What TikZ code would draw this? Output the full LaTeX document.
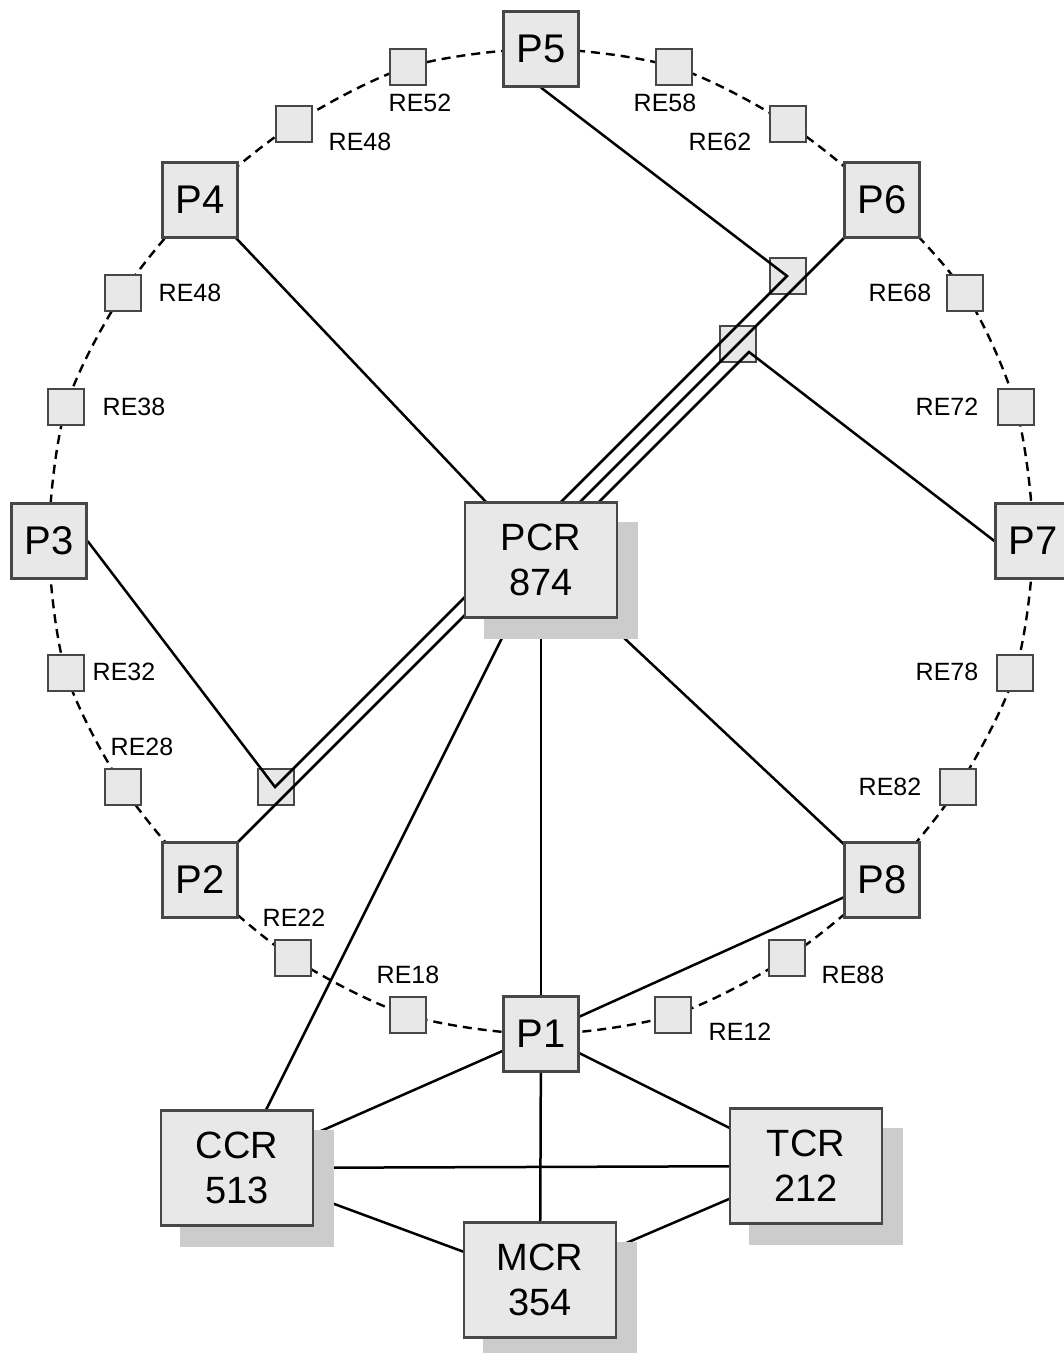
\documentclass[tikz,border=0pt]{standalone}
\usepackage{fontspec}
\setmainfont{Liberation Sans}
\usetikzlibrary{calc}
\definecolor{boxfill}{gray}{0.91}
\definecolor{boxborder}{gray}{0.28}
\definecolor{shadowgray}{gray}{0.8}
\pgfdeclarelayer{ringl}
\pgfdeclarelayer{apexl}
\pgfdeclarelayer{linel}
\pgfdeclarelayer{shadowl}
\pgfsetlayers{ringl,apexl,linel,shadowl,main}
\begin{document}
\begin{tikzpicture}[x=1pt,y=-1pt,
  pbox/.style={draw=boxborder, fill=boxfill, line width=2.2pt, minimum width=75pt, minimum height=75pt, inner sep=0pt, font=\fontsize{40}{44}\selectfont},
  rebox/.style={draw=boxborder, fill=boxfill, line width=1.8pt, minimum size=36pt, inner sep=0pt},
  bigbox/.style={draw=boxborder, fill=boxfill, line width=2.2pt, minimum width=152pt, minimum height=115pt, inner sep=0pt, align=center, font=\fontsize{38}{45}\selectfont},
  shadowbox/.style={fill=shadowgray, minimum width=154pt, minimum height=117pt, inner sep=0pt},
  relabel/.style={font=\fontsize{25}{28}\selectfont, inner sep=0pt},
  conn/.style={line width=2.5pt, black},
  ring/.style={line width=2.4pt, dash pattern=on 9pt off 6pt}
]
\useasboundingbox (0,0) rectangle (1064,1353);
% ring members
\node[pbox] (p1) at (541,1034) {P1};
\node[pbox] (p2) at (200,880) {P2};
\node[pbox] (p3) at (49,541) {P3};
\node[pbox] (p4) at (200,200) {P4};
\node[pbox] (p5) at (541,49) {P5};
\node[pbox] (p6) at (882,200) {P6};
\node[pbox] (p7) at (1033,541) {P7};
\node[pbox] (p8) at (882,880) {P8};
\node[rebox] (re52) at (408,67) {};
\node[rebox] (re48a) at (294,124) {};
\node[rebox] (re58) at (674,67) {};
\node[rebox] (re62) at (788,124) {};
\node[rebox] (re48b) at (123,293) {};
\node[rebox] (re38) at (66,407) {};
\node[rebox] (re32) at (66,673) {};
\node[rebox] (re28) at (123,787) {};
\node[rebox] (re22) at (293,958) {};
\node[rebox] (re18) at (408,1015) {};
\node[rebox] (re12) at (673,1015) {};
\node[rebox] (re88) at (787,958) {};
\node[rebox] (re82) at (958,787) {};
\node[rebox] (re78) at (1015,673) {};
\node[rebox] (re72) at (1016,407) {};
\node[rebox] (re68) at (965,293) {};
% labels
\node[relabel] (l52) at (420,103) {RE52};
\node[relabel] (l48a) at (360,142) {RE48};
\node[relabel] (l58) at (665,103) {RE58};
\node[relabel] (l62) at (720,142) {RE62};
\node[relabel] (l48b) at (190,293) {RE48};
\node[relabel] (l38) at (134,407) {RE38};
\node[relabel] (l32) at (124,672) {RE32};
\node[relabel] (l28) at (142,747) {RE28};
\node[relabel] (l22) at (294,918) {RE22};
\node[relabel] (l18) at (408,975) {RE18};
\node[relabel] (l12) at (740,1032) {RE12};
\node[relabel] (l88) at (853,975) {RE88};
\node[relabel] (l68) at (900,293) {RE68};
\node[relabel] (l72) at (947,407) {RE72};
\node[relabel] (l78) at (947,672) {RE78};
\node[relabel] (l82) at (890,787) {RE82};
% big boxes
\node[bigbox] (pcr) at (541,560) {PCR\\874};
\node[bigbox] (ccr) at (237,1168) {CCR\\513};
\node[bigbox] (tcr) at (806,1166) {TCR\\212};
\node[bigbox] (mcr) at (540,1280) {MCR\\354};
% shadows
\begin{pgfonlayer}{shadowl}
\node[shadowbox] (pcrsh) at ($(pcr)+(20,20)$) {};
\node[shadowbox] (ccrsh) at ($(ccr)+(20,20)$) {};
\node[shadowbox] (tcrsh) at ($(tcr)+(20,20)$) {};
\node[shadowbox] (mcrsh) at ($(mcr)+(20,20)$) {};
\end{pgfonlayer}
% crossing boxes
\begin{pgfonlayer}{apexl}
\node[rebox] (x1) at (788,276) {};
\node[rebox] (x2) at (738,344) {};
\node[rebox] (x3) at (276,787) {};
\end{pgfonlayer}
\coordinate (a1) at (787,276);
\coordinate (a2) at (749,352);
\coordinate (a3) at (275,787);
\coordinate (e5) at (503,560);
\coordinate (e6) at (522,560);
\coordinate (e3) at (502,560);
\coordinate (e2) at (520,560);
% connectors
\begin{pgfonlayer}{linel}
\draw[conn] (p4.center) -- (pcr.center);
\draw[conn] (p5.south) -- (a1) -- (e5);
\draw[conn] (p6.center) -- (e6);
\draw[conn] (p7.west) -- (a2) -- (pcr.center);
\draw[conn] (p3.east) -- (a3) -- (e3);
\draw[conn] (p2.center) -- (e2);
\draw[conn] (pcr.center) -- (p8.center);
\draw[conn] (pcr.center) -- (p1.center);
\draw[conn] (pcr.center) -- (ccr.center);
\draw[conn] (p1.center) -- (p8.center);
\draw[conn] (p1.center) -- (ccr.center);
\draw[conn] (p1.center) -- (tcr.center);
\draw[conn] (p1.center) -- (mcr.center);
\draw[conn] (ccr.center) -- (tcr.center);
\draw[conn] (ccr.center) -- (mcr.center);
\draw[conn] (tcr.center) -- (mcr.center);
\end{pgfonlayer}
% ring
\begin{pgfonlayer}{ringl}
\draw[ring] plot[smooth cycle] coordinates {(p5.center) (re58.center) (re62.center) (p6.center) (re68.center) (re72.center) (p7.center) (re78.center) (re82.center) (p8.center) (re88.center) (re12.center) (p1.center) (re18.center) (re22.center) (p2.center) (re28.center) (re32.center) (p3.center) (re38.center) (re48b.center) (p4.center) (re48a.center) (re52.center)};
\end{pgfonlayer}
\end{tikzpicture}
\end{document}
